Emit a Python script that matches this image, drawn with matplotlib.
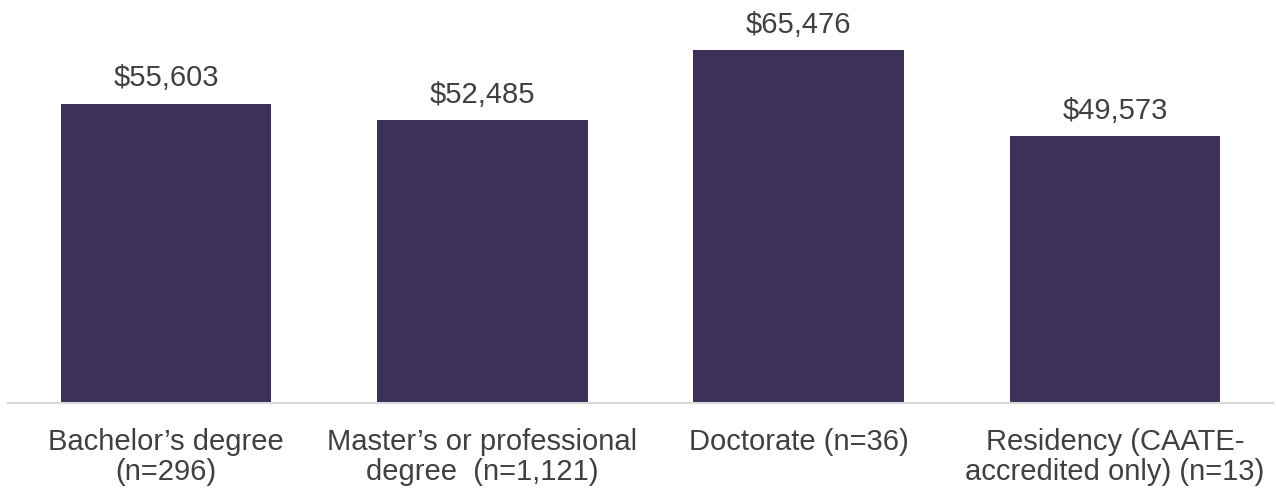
import matplotlib.pyplot as plt

categories = ["Bachelor\u2019s degree\n(n=296)",
              "Master\u2019s or professional\ndegree  (n=1,121)",
              "Doctorate (n=36)",
              "Residency (CAATE-\naccredited only) (n=13)"]
salaries = [55603, 52485, 65476, 49573]

plt.rcParams['font.family'] = ['Liberation Sans', 'DejaVu Sans']

fig = plt.figure(figsize=(12.76, 4.89), dpi=100)
ax = fig.add_axes([8 / 1276, 85 / 489, 1265 / 1276, 377 / 489])

x = range(len(categories))
bars = ax.bar(x, salaries, width=0.665, color='#3e3159')

for b, v in zip(bars, salaries):
    ax.text(b.get_x() + b.get_width() / 2, v + 2300, f"${v:,}",
            ha='center', va='bottom', fontsize=21, color='#404040')

ax.set_xlim(-0.5, len(categories) - 0.5)
ax.set_ylim(0, 70000)
ax.set_xticks(list(x))
ax.set_xticklabels(categories, fontsize=21, color='#404040', linespacing=1.1)
ax.tick_params(axis='x', length=0, pad=17)
ax.set_yticks([])

for s in ['top', 'right', 'left']:
    ax.spines[s].set_visible(False)
ax.spines['bottom'].set_color('#d9d9d9')
ax.spines['bottom'].set_linewidth(1.5)

fig.savefig('out.png', dpi=100)
